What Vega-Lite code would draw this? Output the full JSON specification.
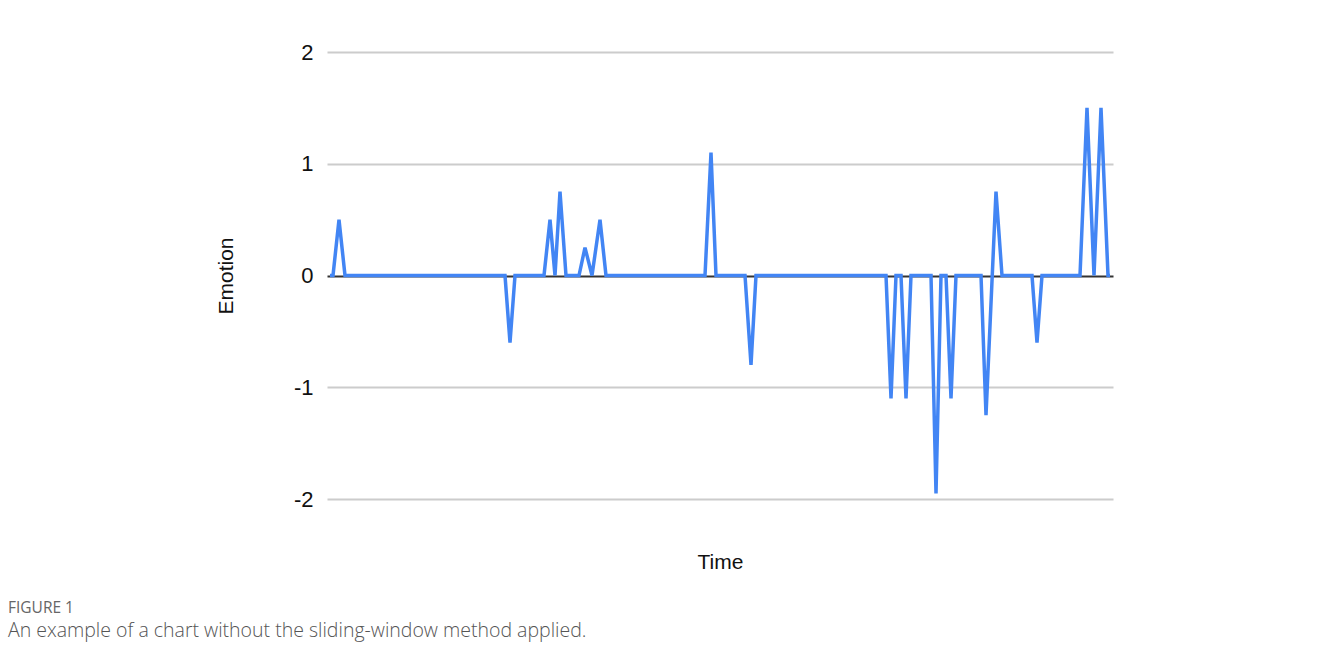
{
  "$schema": "https://vega.github.io/schema/vega-lite/v6.json",
  "autosize": {"type": "none"},
  "width": 786,
  "height": 447,
  "padding": {"left": 327, "top": 52, "right": 214, "bottom": 165},
  "background": "white",
  "config": {
    "view": {"stroke": null},
    "font": "Liberation Sans"
  },
  "title": {
    "text": "FIGURE 1",
    "subtitle": "An example of a chart without the sliding-window method applied.",
    "orient": "bottom",
    "anchor": "start",
    "frame": "group",
    "dx": -319,
    "offset": 29,
    "font": "Open Sans",
    "fontSize": 15.5,
    "fontWeight": 500,
    "color": "#666666",
    "subtitleFont": "Open Sans",
    "subtitleFontSize": 19.5,
    "subtitleFontWeight": 300,
    "subtitleColor": "#555555",
    "subtitlePadding": 5
  },
  "data": {
    "values": [
      {"time": 3, "emotion": 0},
      {"time": 6, "emotion": 0},
      {"time": 12, "emotion": 0.5},
      {"time": 18, "emotion": 0},
      {"time": 178, "emotion": 0},
      {"time": 183, "emotion": -0.6},
      {"time": 188, "emotion": 0},
      {"time": 217, "emotion": 0},
      {"time": 223, "emotion": 0.5},
      {"time": 228, "emotion": 0},
      {"time": 233, "emotion": 0.75},
      {"time": 239, "emotion": 0},
      {"time": 252, "emotion": 0},
      {"time": 258, "emotion": 0.25},
      {"time": 265, "emotion": 0},
      {"time": 273, "emotion": 0.5},
      {"time": 279, "emotion": 0},
      {"time": 378, "emotion": 0},
      {"time": 384, "emotion": 1.1},
      {"time": 389, "emotion": 0},
      {"time": 418, "emotion": 0},
      {"time": 424, "emotion": -0.8},
      {"time": 429, "emotion": 0},
      {"time": 559, "emotion": 0},
      {"time": 564, "emotion": -1.1},
      {"time": 569, "emotion": 0},
      {"time": 574, "emotion": 0},
      {"time": 579, "emotion": -1.1},
      {"time": 584, "emotion": 0},
      {"time": 604, "emotion": 0},
      {"time": 609, "emotion": -1.95},
      {"time": 614, "emotion": 0},
      {"time": 619, "emotion": 0},
      {"time": 624, "emotion": -1.1},
      {"time": 629, "emotion": 0},
      {"time": 654, "emotion": 0},
      {"time": 659, "emotion": -1.25},
      {"time": 669, "emotion": 0.75},
      {"time": 675, "emotion": 0},
      {"time": 705, "emotion": 0},
      {"time": 710, "emotion": -0.6},
      {"time": 715, "emotion": 0},
      {"time": 753, "emotion": 0},
      {"time": 760, "emotion": 1.5},
      {"time": 767, "emotion": 0},
      {"time": 774, "emotion": 1.5},
      {"time": 781, "emotion": 0},
      {"time": 783, "emotion": 0}
    ]
  },
  "mark": {"type": "line", "color": "#4285F4", "strokeWidth": 3.5, "clip": false},
  "encoding": {
    "x": {
      "field": "time",
      "type": "quantitative",
      "scale": {"domain": [0, 786], "nice": false, "zero": false},
      "axis": {
        "title": "Time",
        "labels": false,
        "ticks": false,
        "domain": false,
        "grid": false,
        "titleFont": "Liberation Sans",
        "titleFontSize": 21,
        "titleFontWeight": "normal",
        "titleColor": "#111111",
        "titlePadding": 52
      }
    },
    "y": {
      "field": "emotion",
      "type": "quantitative",
      "scale": {"domain": [-2, 2], "nice": false},
      "axis": {
        "title": "Emotion",
        "values": [-2, -1, 0, 1, 2],
        "labelExpr": "'' + datum.value",
        "ticks": false,
        "domain": false,
        "grid": true,
        "gridColor": {"condition": {"test": "datum.value === 0", "value": "#333333"}, "value": "#cccccc"},
        "gridWidth": 2,
        "labelFont": "Liberation Sans",
        "labelFontSize": 22,
        "labelColor": "#111111",
        "labelPadding": 14,
        "titleFont": "Liberation Sans",
        "titleFontSize": 21,
        "titleFontWeight": "normal",
        "titleColor": "#111111",
        "titlePadding": 57
      }
    }
  }
}
